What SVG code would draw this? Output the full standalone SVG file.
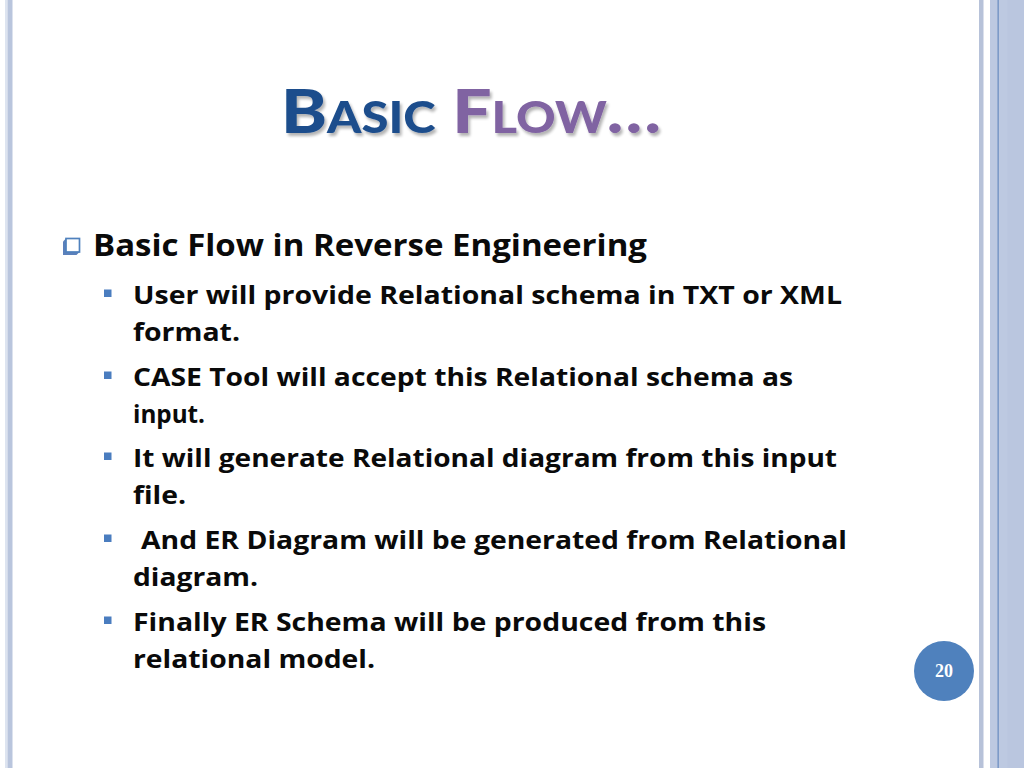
<svg xmlns="http://www.w3.org/2000/svg" width="1024" height="768" viewBox="0 0 1024 768">
<defs>
<filter id="sh" x="-5%" y="-20%" width="110%" height="140%">
<feGaussianBlur in="SourceAlpha" stdDeviation="1.5"/>
<feOffset dx="2" dy="2.5" result="o"/>
<feComponentTransfer><feFuncA type="linear" slope="0.3"/></feComponentTransfer>
<feMerge><feMergeNode/><feMergeNode in="SourceGraphic"/></feMerge>
</filter>
</defs>
<style>
.t{font-family:"Open Sans",Lato,"Liberation Sans",sans-serif;font-weight:bold;fill:#0a0a0a}
.l1{font-size:30px}
.l2{font-size:25px}
.b{fill:#4a7dbf}
</style>
<rect width="1024" height="768" fill="#ffffff"/>
<g id="border-left">
<rect x="5" y="0" width="2.5" height="768" fill="#dde4f0"/>
<rect x="7.5" y="0" width="5" height="768" fill="#b9c5dd"/>
</g>
<g id="border-right">
<rect x="979" y="0" width="4.5" height="768" fill="#b7c2d9"/>
<rect x="990" y="0" width="34" height="768" fill="#bdc9e1"/>
<rect x="997.5" y="0" width="1.3" height="768" fill="#6f8fc2"/>
<rect x="1007.5" y="0" width="16.5" height="768" fill="#bac6df"/>
</g>
<g id="title" filter="url(#sh)">
<text x="281" y="133" font-family="Lato,'Open Sans',sans-serif" font-weight="900" font-size="61" style="font-variant:small-caps" textLength="380" lengthAdjust="spacingAndGlyphs"><tspan fill="#1f4e8c">Basic</tspan> <tspan fill="#8064a2">Flow…</tspan></text>
</g>
<g id="bullet-main">
<path d="M66 238.5 L63 241.5 L63 255 L76.5 255 L79.5 252 Z" fill="#5b80bb"/>
<rect x="66" y="238.5" width="13.5" height="13.5" fill="#ffffff" stroke="#4f81bd" stroke-width="1.7"/>
<text class="t l1" x="93" y="256" textLength="554" lengthAdjust="spacingAndGlyphs">Basic Flow in Reverse Engineering</text>
</g>
<g id="item1">
<rect class="b" x="104" y="289.5" width="7.5" height="7.5"/>
<text class="t l2" x="133" y="304" textLength="709" lengthAdjust="spacingAndGlyphs">User will provide Relational schema in TXT or XML</text>
<text class="t l2" x="133" y="341" textLength="107" lengthAdjust="spacingAndGlyphs">format.</text>
</g>
<g id="item2">
<rect class="b" x="104" y="371.5" width="7.5" height="7.5"/>
<text class="t l2" x="133" y="386" textLength="660" lengthAdjust="spacingAndGlyphs">CASE Tool will accept this Relational schema as</text>
<text class="t l2" x="133" y="423" textLength="72" lengthAdjust="spacingAndGlyphs">input.</text>
</g>
<g id="item3">
<rect class="b" x="104" y="452.5" width="7.5" height="7.5"/>
<text class="t l2" x="133" y="467" textLength="704" lengthAdjust="spacingAndGlyphs">It will generate Relational diagram from this input</text>
<text class="t l2" x="133" y="504" textLength="53" lengthAdjust="spacingAndGlyphs">file.</text>
</g>
<g id="item4">
<rect class="b" x="104" y="534.5" width="7.5" height="7.5"/>
<text class="t l2" x="141" y="549" textLength="706" lengthAdjust="spacingAndGlyphs">And ER Diagram will be generated from Relational</text>
<text class="t l2" x="133" y="586" textLength="125" lengthAdjust="spacingAndGlyphs">diagram.</text>
</g>
<g id="item5">
<rect class="b" x="104" y="616.5" width="7.5" height="7.5"/>
<text class="t l2" x="133" y="631" textLength="633" lengthAdjust="spacingAndGlyphs">Finally ER Schema will be produced from this</text>
<text class="t l2" x="133" y="668" textLength="242" lengthAdjust="spacingAndGlyphs">relational model.</text>
</g>
<g id="page-number">
<circle cx="944" cy="671" r="30" fill="#4f81bd"/>
<text x="944" y="677" text-anchor="middle" font-family="'Liberation Serif','DejaVu Serif',serif" font-weight="bold" font-size="18" fill="#ffffff">20</text>
</g>
</svg>
